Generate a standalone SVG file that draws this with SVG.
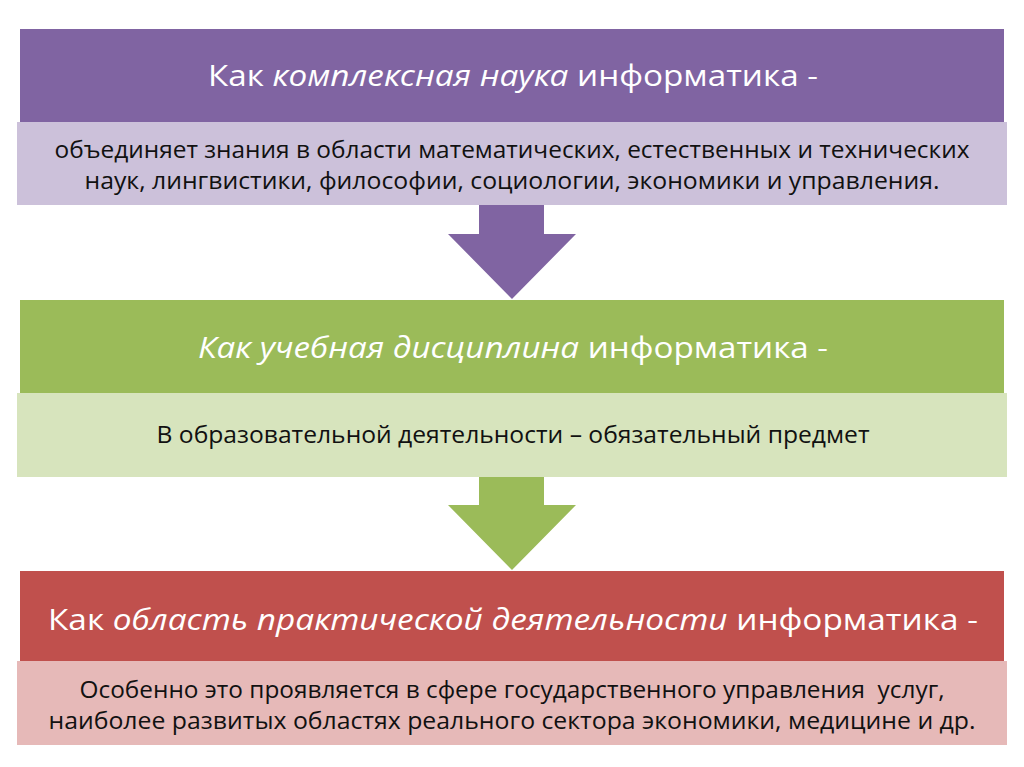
<svg xmlns="http://www.w3.org/2000/svg" width="1024" height="767" viewBox="0 0 1024 767">
<style>
.h{font-family:"Open Sans","Liberation Sans",sans-serif;font-size:30px;fill:#fff;text-anchor:middle}
.s{font-family:"Open Sans","Liberation Sans",sans-serif;font-size:23px;fill:#111;text-anchor:middle}
.i{font-style:italic}
</style>
<rect width="1024" height="767" fill="#fff"/>
<g id="node1">
<rect x="20" y="29" width="984" height="93" fill="#8064A2"/>
<rect x="17" y="122" width="990" height="83" fill="#CCC1DA"/>
<text class="h" x="513" y="86" textLength="610" lengthAdjust="spacingAndGlyphs">Как <tspan class="i">комплексная наука</tspan> информатика -</text>
<text class="s" x="512" y="158" textLength="915" lengthAdjust="spacingAndGlyphs">объединяет знания в области математических, естественных и технических</text>
<text class="s" x="512" y="189" textLength="855" lengthAdjust="spacingAndGlyphs">наук, лингвистики, философии, социологии, экономики и управления.</text>
</g>
<g id="node2">
<rect x="20" y="300" width="984" height="93" fill="#9BBB59"/>
<rect x="17" y="393" width="990" height="84" fill="#D7E4BD"/>
<text class="h" x="513" y="358" textLength="630" lengthAdjust="spacingAndGlyphs"><tspan class="i">Как учебная дисциплина</tspan> информатика -</text>
<text class="s" x="513" y="443" textLength="713" lengthAdjust="spacingAndGlyphs">В образовательной деятельности – обязательный предмет</text>
</g>
<g id="node3">
<rect x="20" y="571" width="984" height="90" fill="#C0504D"/>
<rect x="17" y="661" width="990" height="84" fill="#E6B9B8"/>
<text class="h" x="513" y="630" textLength="930" lengthAdjust="spacingAndGlyphs">Как <tspan class="i">область практической деятельности</tspan> информатика -</text>
<text class="s" x="512" y="698" textLength="865" lengthAdjust="spacingAndGlyphs">Особенно это проявляется в сфере государственного управления&#160; услуг,</text>
<text class="s" x="512" y="729" textLength="927" lengthAdjust="spacingAndGlyphs">наиболее развитых областях реального сектора экономики, медицине и др.</text>
</g>
<g id="connectors">
<polygon points="479,205 544,205 544,234 576,234 512,299 448,234 479,234" fill="#8064A2"/>
<polygon points="479,477 544,477 544,505 576,505 512,570 448,505 479,505" fill="#9BBB59"/>
</g>
</svg>
